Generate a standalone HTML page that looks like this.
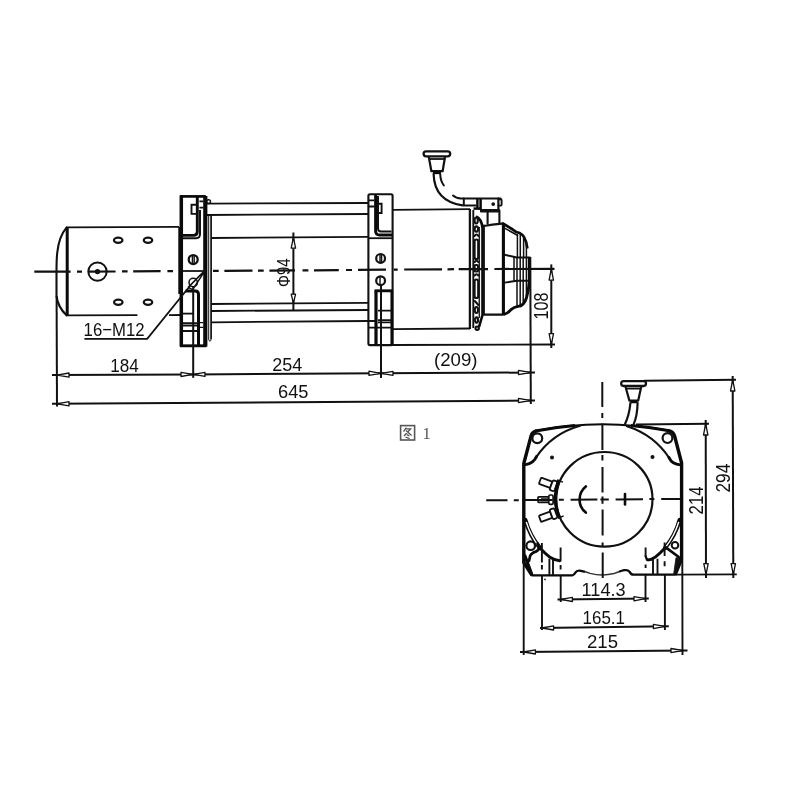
<!DOCTYPE html>
<html>
<head>
<meta charset="utf-8">
<title>Winch drawing</title>
<style>
html,body{margin:0;padding:0;background:#fff;}
body{width:800px;height:800px;overflow:hidden;font-family:"Liberation Sans",sans-serif;}
svg{display:block;filter:grayscale(1) blur(0.3px);}
.l{stroke:#111;stroke-width:1.8;fill:none;stroke-linecap:butt;}
.m{stroke:#111;stroke-width:2.1;fill:none;stroke-linecap:round;stroke-linejoin:round;}
.k{stroke:#0a0a0a;stroke-width:3;fill:none;stroke-linecap:butt;stroke-linejoin:round;}
.t{stroke:#111;stroke-width:1.4;fill:none;}
.a{stroke:#111;stroke-width:1.3;fill:#fff;stroke-linejoin:round;}
.w{fill:#fff;}
text{font-family:"Liberation Sans",sans-serif;fill:#111;}
</style>
</head>
<body>
<svg width="800" height="800" viewBox="0 0 800 800">
<rect x="0" y="0" width="800" height="800" fill="#fff"/>

<!-- ================= SIDE VIEW ================= -->
<g id="side">

<!-- motor -->
<g id="motor">
<path class="l" d="M66,227.3 L179,226.9"/>
<path class="l" d="M66,315.4 L137.4,315.2 M169,315.1 L181,315"/>
<path class="k" d="M67.2,227 V315.6"/>
<path class="m" d="M66.5,227.6 C61,234 58.2,243 57.2,253 C56.6,259 56.5,264 56.5,272 V296 C57.5,304 61,310 66.5,315.3"/>
<circle class="l" cx="97.5" cy="271.6" r="9.2" style="stroke-width:2.0"/>
<circle cx="97.5" cy="271.6" r="2.7" style="fill:#111"/>
<g class="m" style="stroke-width:2.3;fill:#fff">
<ellipse cx="118.2" cy="240.3" rx="4.2" ry="2.6"/>
<ellipse cx="148" cy="240.3" rx="4.2" ry="2.6"/>
<ellipse cx="118.3" cy="302.2" rx="4.2" ry="2.6"/>
<ellipse cx="148" cy="302.2" rx="4.2" ry="2.6"/>
</g>
</g>

<!-- tie rods and drum -->
<g id="drum">
<path class="l" d="M206,203.6 L368,203"/>
<path class="l" d="M206,215 L368,214"/>
<path class="l" d="M211,238 L368,236.8"/>
<path class="l" d="M211,304 L368,302.8"/>
<path class="l" d="M211,311 L368,310"/>
<path class="l" d="M211,322.3 L368,321"/>
<!-- drum flange -->
<path class="t" d="M208.7,214.8 V339 Q208.8,341.2 209.9,341.2 Q211,341.2 211.1,339" style="stroke-width:1.0"/>
<path class="t" d="M211.1,339 V214.8" style="stroke-width:1.7"/>
<circle class="t" cx="208.6" cy="201.6" r="1.9"/>
</g>

<!-- left bracket -->
<g id="lbracket">
<path class="k" d="M181.3,195.5 V346.5" style="stroke-width:3.5"/>
<path class="k" d="M180,196.4 H205.8" style="stroke-width:2.7"/>
<path class="k" d="M180,345.8 H206.5" style="stroke-width:2.9"/>
<path class="k" d="M205.3,196 V346.5" style="stroke-width:4.2"/>
<path class="k" d="M179.2,227 V294" style="stroke-width:1.8"/>
<!-- upper inner L -->
<path class="k" d="M197.3,197 V231.5 Q197.3,235.4 193.5,235.4 H182.5" style="stroke-width:2.9"/>
<path class="l" d="M200,210 V234 Q200,238.2 196,238.2 H182.5" style="stroke-width:2.0"/>
<path class="l" d="M199.4,201.4 H203.6 M199.4,207.6 H203.6"/>
<path class="l" d="M197,204.8 H191.5 V213.9 H197" style="stroke-width:1.9"/>
<!-- screws -->
<circle class="m" cx="193.2" cy="259.6" r="4.5" style="stroke-width:2.3"/>
<path class="t" d="M192.4,255.6 V263.6 M194.2,255.6 V263.6"/>
<path class="l" d="M182.5,271 H204"/>
<circle class="t" cx="193.2" cy="282.5" r="4.2" style="stroke-width:1.5"/>
<!-- lower inner -->
<path class="k" d="M185.5,291 H195.2 Q198.5,291 198.5,294.5 V345" style="stroke-width:3"/>
<path class="l" d="M200,322.6 H203.4 M200,327.4 H203.4" style="stroke-width:1.3"/>
<path class="l" d="M181,313.6 H193.2"/>
<path class="l" d="M182.5,323.2 H197.5 M182.5,325.5 H197.5 M182.5,331 H197.5"/>
</g>

<!-- right bracket -->
<g id="rbracket">
<rect class="m" x="368.4" y="194.3" width="24.2" height="150.8" rx="1.5"/>
<path class="k" d="M375.6,195 V231 Q375.6,235 379.5,235 H392" style="stroke-width:2.9"/>
<path class="l" d="M378,196 V228.5 Q378,231.5 381,231.5 H391.5" style="stroke-width:2.0"/>
<path class="l" d="M368.4,238.2 H392.4"/>
<path class="l" d="M378,203.8 H381.6 V213 H378" style="stroke-width:1.9"/>
<path class="l" d="M369,200.4 H374.5 M369,206.5 H374.5"/>
<circle class="m" cx="380.6" cy="258.4" r="4.4" style="stroke-width:2.2"/>
<path class="t" d="M380,254.4 V262.4 M381.6,254.4 V262.4"/>
<circle class="m" cx="380.6" cy="280.7" r="4.4" style="stroke-width:2.2"/>
<path class="t" d="M380,276.7 V284.7"/>
<!-- lower rect -->
<path class="k" d="M374.5,290.8 H392" style="stroke-width:2.9"/>
<path class="k" d="M376,290.8 V345" style="stroke-width:3.2"/>
<path class="k" d="M391.8,290 V345" style="stroke-width:2.7"/>
<path class="l" d="M378,310.6 H391 M378,320.2 H391 M378,322.4 H391 M377,327.6 H391"/>
<path class="l" d="M368.4,321 H375 M368.4,327.6 H375"/>
</g>

</g><!-- /side -->

<!-- gearbox / clutch end -->
<g id="gearbox">
<path class="l" d="M393,209.8 L470,209.2"/>
<path class="l" d="M393,329.2 L470,328.5"/>
<path class="l" d="M469.9,209 V329" style="stroke-width:2.3"/>
<path class="l" d="M473.3,210 V328" style="stroke-width:1.9"/>
<!-- ring gear -->
<path class="k" d="M476,216.5 Q481.8,219 482.5,228 V315 L479,327" style="stroke-width:2.6"/>
<path class="k" d="M479.3,227 V318" style="stroke-width:1.5;stroke:#222"/>
<g class="m" style="stroke-width:2.1">
<rect x="474.6" y="239.5" width="3.6" height="19.5" rx="1.8"/>
<rect x="474.6" y="279.5" width="3.6" height="18.5" rx="1.8"/>
<ellipse cx="476.2" cy="220.5" rx="1.6" ry="3"/>
<ellipse cx="476.4" cy="229" rx="1.7" ry="2.6"/>
<path d="M474.6,236 Q476.5,233 478.4,236"/>
<rect x="474.6" y="265" width="3.4" height="6.5" rx="1"/>
<path d="M474.6,262 Q476.5,259.5 478.4,262"/>
<path d="M474.6,275.5 Q476.5,273 478.4,275.5"/>
<path d="M474.8,301 L478.4,305"/>
<ellipse cx="476.4" cy="310" rx="1.6" ry="3"/>
<ellipse cx="476.6" cy="320" rx="1.5" ry="2.6"/>
<circle cx="477.2" cy="328.2" r="1.7"/>
</g>
<!-- housing cylinder -->
<path class="m" d="M483.8,226 Q492,224.2 501.8,223.6" style="stroke-width:2.2"/>
<path class="m" d="M483.8,225.5 V314.6 H503" style="stroke-width:2.2"/>
<path class="k" d="M503.4,223.5 V314.8" style="stroke-width:3.1"/>
<!-- cone -->
<path class="k" d="M502,223 L512,229 Q516,232.6 520,233.2 Q525.5,235.2 527.4,248.5" style="stroke-width:2.7"/>
<path class="m" d="M505,228.4 L517.4,235.2" style="stroke-width:1.6"/>
<path class="m" d="M517.4,234.8 V257.5 M520.3,233.6 V257.5 M523.6,236 V257.5 M526.4,241 V257.5" style="stroke-width:1.5"/>
<path class="m" d="M504.6,254.8 L516.8,257.5 H529.8" style="stroke-width:1.9"/>
<path class="m" d="M514,257.5 V281.2 M517,257.5 V281 M520.2,257.5 V304.5 M523.2,257.5 V303.5 M526.4,257.5 V296" style="stroke-width:1.5"/>
<path class="k" d="M529.2,257.5 V282" style="stroke-width:2.7"/>
<path class="m" d="M504.6,282.6 L517,280.8 H529" style="stroke-width:1.9"/>
<path class="m" d="M517,281 V306" style="stroke-width:1.5"/>
<path class="k" d="M503.4,314.6 Q508,313.4 511,309.6 Q514,307.2 518,306.4 Q524,306 526.4,298 Q528.6,291 529.2,282" style="stroke-width:2.9"/>
</g>

<!-- clutch handle -->
<g id="handle">
<rect class="m" x="423.6" y="151.3" width="26.6" height="5" rx="2.5" style="stroke-width:2.3"/>
<path class="m" d="M428.8,157 L431.4,171.2 H442.6 L445,157" style="stroke-width:2.2"/>
<path class="l" d="M429.2,159 H444.6"/>
<path class="k" d="M433,172.8 H441" style="stroke-width:2.7"/>
<path class="m" d="M433.6,174 C434,188 440,202 462.5,205.4" style="stroke-width:2.2"/>
<path class="m" d="M440.2,174 C440.4,179 441.6,182.5 443.8,185.4" style="stroke-width:2.0"/>
<path class="m" d="M453,195.6 Q456,198.3 461,198.5 H500.5" style="stroke-width:2.0"/>
<path class="m" d="M463.8,198.6 V205.6 H475.6" style="stroke-width:2.0"/>
<path class="k" d="M477.4,198.6 V209 M480.6,198.6 V210" style="stroke-width:2.5"/>
<path class="m" d="M481,210.2 H498.4 V198.6" style="stroke-width:2.2"/>
<path class="m" d="M498.4,199.2 H500.8 Q501.6,199.2 501.6,200.2 V204.6 Q501.6,205.6 500.8,205.6 H498.4" style="stroke-width:1.9"/>
<circle cx="493.2" cy="204.1" r="1.9" style="fill:#111"/>
<path class="k" d="M473.5,208.6 H481" style="stroke-width:2.5"/>
<path class="m" d="M487.6,211 V223.6 M499.4,210.4 V223.4 M481,211.4 H499" style="stroke-width:2.1"/>
</g>

<!-- centre line side view -->
<g id="cl1" class="l" style="stroke-width:2.2">
<path d="M34.3,271.7 L70.6,271.6 M77,271.6 L82,271.6 M88,271.6 L115.6,271.5 M122,271.4 L127.6,271.4 M133.2,271.3 L160.6,271.2 M167.4,271.1 L173,271.1"/>
<path d="M213,270.9 L218.7,270.9 M224.4,270.8 L252.5,270.7 M258,270.6 L263.7,270.6 M269.4,270.6 L295,270.4 M302.5,270.4 L308.4,270.3 M314,270.3 L338.8,270.1 M346,270 L352,270 M358,269.9 L386,269.7 M393.7,269.6 L397.7,269.6 M404.2,269.5 L442,269.3 M447.5,269.3 L454,269.2 M458.7,269.2 L488,269.1 M494.4,269 L554.5,268.9"/>
</g>

<!-- dimensions side view -->
<g id="dims1">
<!-- extension lines -->
<path class="t" d="M56.6,296 L57,406.5" style="stroke-width:2.0"/>
<path class="t" d="M193.2,286.8 V377.8" style="stroke-width:2.0"/>
<path class="t" d="M381,285 V378" style="stroke-width:2.0"/>
<path class="t" d="M530.3,257 L530.8,404" style="stroke-width:2.0"/>
<path class="l" d="M392,345 L555,344.5"/>
<!-- dim line 1 -->
<path class="t" d="M52,375.1 L193,374.4 L381,373.3 L535,372.5" style="stroke-width:2.0"/>
<!-- dim line 2 -->
<path class="t" d="M52,403.8 L535,400.5" style="stroke-width:2.0"/>
<!-- arrows -->
<g class="a">
<path d="M57.2,375.1 L69,373 L69,377.2 Z"/>
<path d="M192.8,374.4 L181,372.3 L181,376.5 Z"/>
<path d="M193.6,374.4 L205,372.4 L205,376.4 Z"/>
<path d="M380.6,373.3 L369,371.2 L369,375.4 Z"/>
<path d="M381.4,373.3 L393,371.3 L393,375.3 Z"/>
<path d="M530.2,372.5 L518.5,370.4 L518.5,374.6 Z"/>
<path d="M57.2,403.8 L69,401.7 L69,405.9 Z"/>
<path d="M530.2,400.5 L518.5,398.4 L518.5,402.6 Z"/>
</g>
<!-- 108 -->
<path class="t" d="M551.3,264.4 V348" style="stroke-width:2.0"/>
<g class="a">
<path d="M551.3,269 L549.1,280.2 H553.5 Z"/>
<path d="M551.3,344.6 L549.1,333.6 H553.5 Z"/>
</g>
<!-- phi94 -->
<path class="t" d="M293.4,232.5 V310.8" style="stroke-width:2.0"/>
<g class="a">
<path d="M293.4,237.4 L291.2,248.2 H295.6 Z"/>
<path d="M293.4,303.2 L291.2,294.2 H295.6 Z"/>
</g>
<!-- leader 16-M12 -->
<path class="t" d="M84.4,338.8 H147.2 L182,295.7 L190.5,285.2" style="stroke-width:1.8"/>
<path class="t" d="M205.9,269.4 L188.2,287.4 M205.9,269.4 L192.6,289.6 M188.2,287.4 L192.6,289.6" style="stroke-width:1.5"/>
<!-- texts -->
<text x="110.2" y="371.8" font-size="19.2" textLength="28.5" lengthAdjust="spacingAndGlyphs">184</text>
<text x="272.2" y="371.3" font-size="19.2" textLength="30" lengthAdjust="spacingAndGlyphs">254</text>
<text x="278" y="398.3" font-size="19.2" textLength="30.5" lengthAdjust="spacingAndGlyphs">645</text>
<text x="434" y="366.3" font-size="19.2" textLength="43.5" lengthAdjust="spacingAndGlyphs">(209)</text>
<text x="83.6" y="336.3" font-size="19.2" textLength="61" lengthAdjust="spacingAndGlyphs">16&#8722;M12</text>
<text transform="translate(548.1,319.6) rotate(-90)" x="0" y="0" font-size="20" textLength="27" lengthAdjust="spacingAndGlyphs">108</text>
<text transform="translate(290,287) rotate(-90)" x="0" y="0" font-size="17.6" textLength="28.6" lengthAdjust="spacingAndGlyphs">&#934;94</text>
</g>

<!-- caption -->
<g id="caption" style="stroke-width:1.3;fill:none;stroke:#555">
<rect x="400.6" y="425.6" width="14" height="14.4" style="stroke-width:1.6"/>
<path d="M406.2,427.6 L403.6,431.6 M405.6,428.8 H410.6 L404,436 M406,430.6 L411.6,435.4 M406.8,434.6 L409.4,435.8 M405.4,437 L409.6,438.6"/>
</g>
<text x="422.4" y="439.2" font-size="16.5" font-family="Liberation Serif" style="font-family:'Liberation Serif',serif;fill:#555">1</text>

<!-- ================= END VIEW ================= -->
<g id="endview">
<!-- outline -->
<path class="k" d="M535.4,431 Q602,417.6 669.4,430.8" style="stroke-width:2.1"/>
<path class="k" d="M535.4,431 Q602,417.6 669.4,430.8" style="stroke-width:3.0;stroke-dasharray:40 56 60"/>
<path class="k" d="M536.5,430.8 Q532.4,431.6 531.2,435.4 L523.8,463.5 V562.5 L532,575.4" style="stroke-width:3.4"/>
<path class="k" d="M668.5,430.7 Q673.2,431.4 674.6,436 L681.6,463 V558.8 L675,575" style="stroke-width:3.4"/>
<!-- bottom edge -->
<path class="k" d="M531.5,575.3 H572.4 Q574.2,575.2 575.4,572.6 Q576.6,570.4 579.4,570.6 Q582,570.8 585,571.8" style="stroke-width:2.3"/>
<path class="k" d="M585,571.8 Q588,572.6 590,573.4 Q602,576.6 614,573.6 Q617,572.4 619,571.8" style="stroke-width:1.5;stroke:#333"/>
<path class="k" d="M619,571.8 Q622,570.6 624,570.2 Q628,569.6 629.4,571.6 Q631,574.6 633.2,574.7 H675" style="stroke-width:2.3"/>
<!-- corner ribs (ellipse rx79.5 ry77 @602.5,499.5) -->
<path class="m" d="M580,425.7 A79.5,77 0 0 0 536,457.3" style="stroke-width:2.1"/>
<path class="k" d="M536.6,456.4 Q533.6,463.4 525.6,464.6" style="stroke-width:2.9;stroke-linecap:round"/>
<path class="m" d="M627,426.3 A79.5,77 0 0 1 669.6,458.6" style="stroke-width:2.1"/>
<path class="k" d="M669,457.6 Q672,464.2 680.4,464.9" style="stroke-width:2.9;stroke-linecap:round"/>
<path class="k" d="M525.4,520 A79.5,77 0 0 0 540,548" style="stroke-width:4.2;stroke-linecap:round"/>
<path d="M526.4,522.4 A79.5,77 0 0 0 539,546.6" style="stroke-width:1.5;stroke-linecap:round;fill:none;stroke:#fff"/>
<path class="k" d="M540,548 A79.5,77 0 0 0 550,557.3 Q555,560.4 559.6,560.8" style="stroke-width:2.9;stroke-linecap:round"/>
<path class="k" d="M679.6,520 A79.5,77 0 0 1 665,548" style="stroke-width:4.2;stroke-linecap:round"/>
<path class="k" d="M665,548 A79.5,77 0 0 1 655,557.3 Q650,560.6 647.2,559.6" style="stroke-width:2.9;stroke-linecap:round"/>
<path class="k" d="M648,560 Q645.8,558.6 645.7,556" style="stroke-width:2.2;stroke-linecap:round"/>
<path d="M678.6,522.4 A79.5,77 0 0 1 666,546.6" style="stroke-width:1.5;stroke-linecap:round;fill:none;stroke:#fff"/>
<path class="k" d="M537.6,543.4 Q541,548.6 536.4,551.4 Q531,553 530,556.4 L529,561" style="stroke-width:2.7;stroke-linecap:round"/>
<path class="k" d="M525,556 L531.6,574" style="stroke-width:3.2;stroke-linecap:round"/>
<path class="k" d="M665.4,547.2 L677.4,556 L680.4,559" style="stroke-width:2.7;stroke-linecap:round"/>
<path d="M676,557.6 L680.4,560 L675.6,574.6 L673.6,574.6 Z" style="stroke-width:0.8;fill:#111;stroke:#111"/>
<!-- bolt holes -->
<circle class="m" cx="537.3" cy="438.2" r="4.9" style="stroke-width:2.2"/>
<circle class="m" cx="667.5" cy="438.1" r="4.9" style="stroke-width:2.2"/>
<circle class="m" cx="530.7" cy="545.7" r="4.3" style="stroke-width:2.2"/>
<circle class="m" cx="675" cy="545.2" r="3.3" style="stroke-width:2.0"/>
<circle cx="552" cy="457.5" r="2" style="fill:#111"/>
<circle cx="652.5" cy="457.1" r="2" style="fill:#111"/>
<circle cx="545" cy="579.4" r="0.9" style="fill:#222"/>
<!-- drum circle -->
<ellipse class="m" cx="604.4" cy="499.3" rx="48.1" ry="47.3" style="stroke-width:2.2"/>
<!-- terminals -->
<g class="m" style="stroke-width:1.7;fill:#fff">
<rect x="538" y="496.8" width="10.8" height="5.6" rx="0.8"/>
<rect x="548.8" y="495" width="4.3" height="9.4" rx="1.5"/>
</g>
<path class="t" style="stroke-width:1.1" d="M541,498.7 H548 M541,500.6 H548"/>
<g class="m" style="stroke-width:1.8;fill:#fff" transform="rotate(20 592 499.8)">
<rect x="536.6" y="496.4" width="12" height="6.6" rx="0.9"/>
<rect x="548.6" y="494.6" width="5" height="10.4" rx="1.7"/>
</g>
<g class="m" style="stroke-width:1.8;fill:#fff" transform="rotate(-20 592 499.8)">
<rect x="536.6" y="496.6" width="12" height="6.6" rx="0.9"/>
<rect x="548.6" y="494.6" width="5" height="10.4" rx="1.7"/>
</g>
<!-- terminal plate -->
<path class="k" style="stroke-width:3.2" d="M558.8,479.8 A50.4,50.4 0 0 0 559.8,518.4"/>
<path class="l" style="stroke-width:1.4" d="M558,480.4 L563,482.2 M558.8,518 L563.6,515.8"/>
<!-- centre marks -->
<path class="k" d="M585.8,486.4 A16.9,16.9 0 0 0 585.8,512.6" style="stroke-width:2.6;stroke-linecap:round"/>
<path class="k" d="M625,494 V504.4" style="stroke-width:2.6;stroke-linecap:round"/>
<!-- centre lines -->
<g class="l" style="stroke-width:2.0">
<path d="M602.3,381.9 V406.9 M602.3,413 V418 M602.4,423.8 V450 M602.4,455 V460.6 M602.5,466.9 V492.5 M602.5,496.4 V503.8 M602.6,509.4 V535.6 M602.6,542.5 V547 M602.7,552.5 V578"/>
<path d="M486.2,500.3 H507.5 M513.8,500.2 H518.8 M522.5,500 L552.5,499.9 M558.8,499.8 H563.8 M570.6,499.7 L597.4,499.6 M600.4,499.5 H608.8 M615.6,499.4 L643,499.2 M649.4,499.1 H654.4 M661.2,499 L681,498.9"/>
</g>
<!-- hidden / extension lines below -->
<g class="l" style="stroke-width:1.9">
<path d="M541.9,543 V562.5 M541.9,565 V569.4 M542,575 V630"/>
<path d="M560.6,547.5 V561.2 M560.6,565 V569.4 M560.7,575 V602"/>
<path d="M645.6,547.5 V557 M645.6,564.4 V568 M645.5,575 V602"/>
<path d="M664.6,542.5 V556 M664.6,561.2 V566.2 M664.9,575 V630"/>
<path d="M549.4,558.8 V575 M553,558.8 V575 M653,558.8 V575 M657.5,558.8 V575"/>
<path d="M523.7,562 V655 M682.3,559 L682.5,655"/>
</g>
<!-- knob -->
<rect class="m" x="621.2" y="381.2" width="24.8" height="4.8" rx="2.4" style="stroke-width:2.3"/>
<path class="m" d="M625.6,387 L629.4,400.6 H638.2 L641.2,387" style="stroke-width:2.2"/>
<path class="l" d="M626.2,388.6 H640.6"/>
<path class="k" d="M630.6,402 H637.4" style="stroke-width:2.5"/>
<path class="m" d="M630.4,403 C629.6,412 628,418 624.8,424.4" style="stroke-width:2.2"/>
<path class="m" d="M637.6,403 C637.4,412 636.4,418 633.6,424.4" style="stroke-width:2.2"/>
</g>

<!-- dimensions end view -->
<g id="dims2">
<path class="t" d="M644,380.8 L736,379.7" style="stroke-width:2.0"/>
<path class="t" d="M636,424.4 L709,423.7" style="stroke-width:2.0"/>
<path class="l" d="M675,574.7 L736.8,574.4" style="stroke-width:1.8"/>
<path class="t" d="M705.7,420 L706,578" style="stroke-width:2.0"/>
<path class="t" d="M732.7,376 L733.3,578" style="stroke-width:2.0"/>
<g class="a">
<path d="M705.7,423.8 L703.5,435 H707.9 Z"/>
<path d="M706,574.5 L703.8,563.6 H708.2 Z"/>
<path d="M732.7,379.8 L730.5,391 H734.9 Z"/>
<path d="M733.3,574.4 L731.1,563.6 H735.5 Z"/>
</g>
<path class="t" d="M557.5,599.4 L648.8,598.6" style="stroke-width:2.0"/>
<path class="t" d="M540,628 L668.8,626.2" style="stroke-width:2.0"/>
<path class="t" d="M520,652 L687.5,650.4" style="stroke-width:2.0"/>
<g class="a">
<path d="M560.8,599.4 L572.4,597.3 V601.5 Z"/>
<path d="M645.4,598.6 L634,596.6 V600.8 Z"/>
<path d="M542.1,628 L553.6,625.8 V630 Z"/>
<path d="M664.8,626.3 L653.4,624.4 V628.6 Z"/>
<path d="M523.8,652 L535.4,649.8 V654 Z"/>
<path d="M682.4,650.5 L671,648.5 V652.7 Z"/>
</g>
<text x="581.6" y="595.8" font-size="19.2" textLength="44" lengthAdjust="spacingAndGlyphs">114.3</text>
<text x="582.6" y="623.8" font-size="19.2" textLength="42.4" lengthAdjust="spacingAndGlyphs">165.1</text>
<text x="587" y="648" font-size="19.2" textLength="31" lengthAdjust="spacingAndGlyphs">215</text>
<text transform="translate(703,514.4) rotate(-90)" font-size="19.4" textLength="28" lengthAdjust="spacingAndGlyphs">214</text>
<text transform="translate(729.7,492.6) rotate(-90)" font-size="19.6" textLength="29" lengthAdjust="spacingAndGlyphs">294</text>
</g>




</svg>
</body>
</html>
